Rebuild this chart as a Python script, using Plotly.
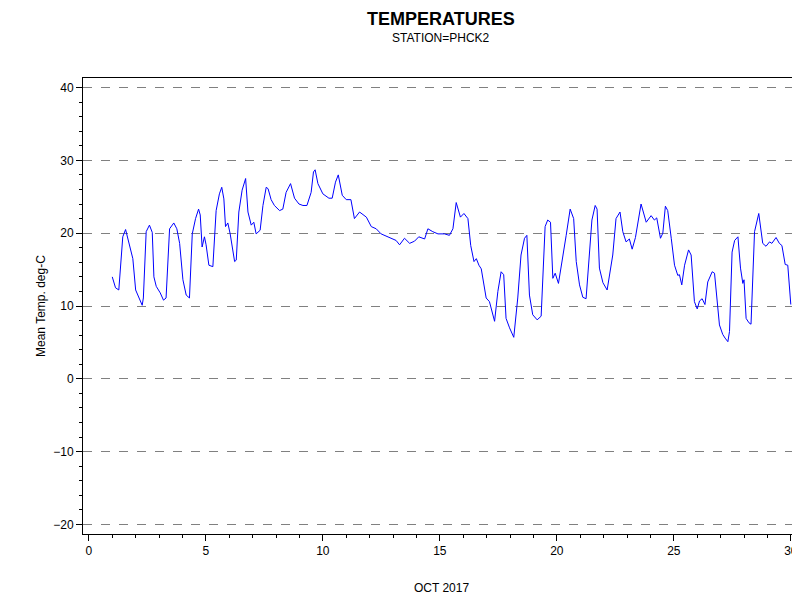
import plotly.graph_objects as go

# day of month (fractional) and mean temperature
days = [1.0, 1.14, 1.28, 1.45, 1.57, 1.67, 1.88, 2.0, 2.14, 2.28, 2.33, 2.45, 2.59, 2.71, 2.78, 2.88,
        3.05, 3.19, 3.3, 3.45, 3.63, 3.76, 3.88, 4.02, 4.16, 4.3, 4.42, 4.56, 4.69, 4.76, 4.84, 4.94,
        5.01, 5.13, 5.3, 5.44, 5.58, 5.68, 5.77, 5.84, 5.94, 6.04, 6.23, 6.3, 6.41, 6.55, 6.7, 6.8,
        6.94, 7.05, 7.15, 7.32, 7.44, 7.58, 7.66, 7.79, 7.93, 8.15, 8.29, 8.43, 8.62, 8.79, 8.98,
        9.15, 9.32, 9.5, 9.6, 9.67, 9.79, 10.0, 10.26, 10.4, 10.54, 10.66, 10.83, 11.0, 11.2, 11.35,
        11.57, 11.71, 11.86, 12.07, 12.28, 12.49, 12.78, 13.13, 13.28, 13.49, 13.71, 13.92, 14.1,
        14.35, 14.49, 14.7, 14.92, 15.2, 15.41, 15.56, 15.7, 15.88, 16.03, 16.2, 16.32, 16.46, 16.56,
        16.67, 16.77, 16.98, 17.12, 17.34, 17.48, 17.62, 17.73, 17.83, 17.98, 18.16, 18.33, 18.47,
        18.62, 18.72, 18.83, 18.97, 19.16, 19.33, 19.5, 19.61, 19.73, 19.83, 19.93, 20.07, 20.4,
        20.57, 20.72, 20.83, 20.97, 21.11, 21.25, 21.4, 21.5, 21.64, 21.72, 21.82, 21.97, 22.15,
        22.39, 22.53, 22.7, 22.82, 22.96, 23.1, 23.22, 23.36, 23.46, 23.6, 23.82, 24.03, 24.17,
        24.27, 24.43, 24.53, 24.64, 24.74, 24.89, 25.03, 25.17, 25.24, 25.34, 25.46, 25.63, 25.74,
        25.88, 26.0, 26.1, 26.21, 26.33, 26.45, 26.64, 26.74, 26.95, 27.09, 27.19, 27.31, 27.38,
        27.49, 27.6, 27.74, 27.85, 27.95, 28.0, 28.09, 28.21, 28.3, 28.45, 28.55, 28.63, 28.8,
        28.94, 29.09, 29.19, 29.37, 29.51, 29.62, 29.76, 29.87, 30.0]
temps = [14.0, 12.5, 12.2, 19.5, 20.5, 19.3, 16.5, 12.2, 11.1, 10.1, 11.1, 20.2, 21.1, 20.1, 14.0, 12.7,
         11.8, 10.8, 11.1, 20.6, 21.4, 20.6, 18.6, 13.6, 11.5, 11.1, 19.9, 22.0, 23.3, 22.5, 18.1, 19.5,
         18.4, 15.6, 15.4, 23.1, 25.4, 26.3, 24.7, 20.9, 21.4, 19.9, 16.1, 16.3, 22.9, 25.9, 27.5, 22.9,
         21.1, 21.5, 19.9, 20.4, 23.8, 26.3, 26.1, 24.6, 23.8, 23.1, 23.3, 25.6, 26.8, 24.8, 24.0,
         23.8, 23.8, 25.6, 28.4, 28.7, 26.8, 25.4, 24.8, 24.8, 27.0, 28.0, 25.2, 24.6, 24.6, 22.0,
         22.9, 22.5, 22.2, 20.9, 20.6, 19.9, 19.5, 19.0, 18.4, 19.3, 18.6, 18.9, 19.5,
         19.2, 20.6, 20.2, 19.9, 19.9, 19.7, 20.6, 24.2, 22.2, 22.7, 22.0, 18.3, 16.1, 16.5,
         15.6, 15.1, 11.1, 10.6, 7.9, 12.0, 14.7, 14.3, 8.3, 7.0, 5.7, 11.1, 17.0,
         19.3, 19.7, 11.5, 8.8, 8.1, 8.6, 20.9, 21.8, 21.5, 13.8, 14.5, 13.1, 19.7,
         23.3, 22.0, 16.1, 12.9, 11.2, 11.0, 17.0, 21.8, 23.8, 23.3, 15.2, 13.2, 12.2,
         17.0, 22.0, 22.9, 20.2, 18.8, 19.2, 17.8, 19.4, 21.5, 24.0, 21.5, 22.4, 21.8,
         22.1, 19.3, 20.0, 23.7, 23.1, 19.3, 15.6, 14.2, 14.3, 12.9, 15.6, 17.7, 17.0,
         10.6, 9.6, 10.7, 11.0, 10.2, 13.3, 14.7, 14.5, 7.4, 6.1, 5.6, 5.1, 6.5,
         17.4, 19.0, 19.5, 15.2, 13.1, 13.6, 8.3, 7.7, 7.5, 20.2, 21.8, 22.7, 18.6,
         18.2, 18.8, 18.6, 19.4, 18.6, 18.3, 15.7, 15.6, 10.2]

x_ticks = [0, 5, 10, 15, 20, 25, 30]
y_ticks = [-20, -10, 0, 10, 20, 30, 40]

fig = go.Figure(go.Scatter(x=days, y=temps, mode="lines",
                           line=dict(color="blue", width=1), showlegend=False))

axis_common = dict(showline=True, linecolor="black", linewidth=1, mirror=True,
                   ticks="outside", ticklen=6, tickcolor="black", automargin=False,
                   tickfont=dict(size=12, color="black"), zeroline=False)

fig.update_xaxes(range=[-0.25, 30.35], tickvals=x_ticks, showgrid=False,
                 minor=dict(ticks="outside", ticklen=3, dtick=1, tickcolor="black"),
                 **axis_common)
fig.update_yaxes(range=[-21.3, 41.3], tickvals=y_ticks, showgrid=True,
                 gridcolor="gray", griddash="dash", gridwidth=1,
                 minor=dict(ticks="outside", ticklen=3, dtick=2, tickcolor="black", showgrid=False),
                 **axis_common)

fig.update_layout(
    width=800, height=600,
    font=dict(family="Liberation Sans, Arial, sans-serif", color="black"),
    plot_bgcolor="white", paper_bgcolor="white",
    margin=dict(l=75, r=9, t=70, b=74, autoexpand=False),
    annotations=[
        dict(text="<b>TEMPERATURES</b>", x=0.5, y=590, xref="paper", yref="paper",
             showarrow=False, font=dict(size=18)),
        dict(text="STATION=PHCK2", x=0.5, y=1, xref="paper", yref="paper",
             showarrow=False, font=dict(size=12)),
        dict(text="OCT 2017", x=0.5, y=0, xref="paper", yref="paper",
             showarrow=False, font=dict(size=12)),
        dict(text="Mean Temp. deg-C", x=0, y=0.5, xref="paper", yref="paper",
             showarrow=False, textangle=-90, font=dict(size=12)),
    ],
)
# place annotations in pixel terms relative to the plot area (456 px tall, 716 px wide)
ann = fig.layout.annotations
ann[0].update(y=1 + 59 / 456, yanchor="middle")
ann[1].update(y=1 + 40 / 456, yanchor="middle")
ann[2].update(y=-54 / 456, yanchor="middle")
ann[3].update(x=-42 / 716, xanchor="center")

fig.write_html("out.html")
